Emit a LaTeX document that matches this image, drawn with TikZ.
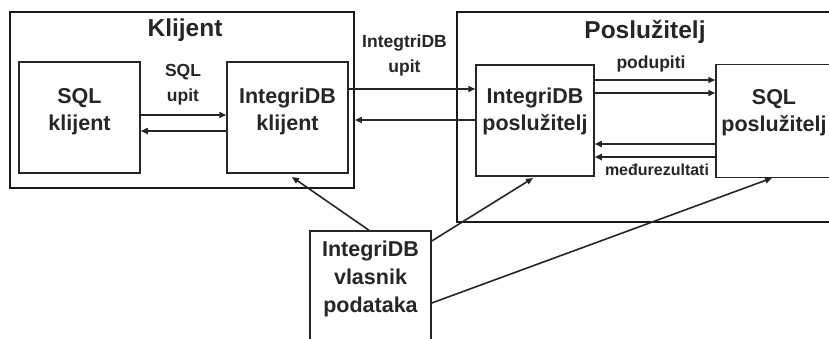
\documentclass[tikz,border=0pt]{standalone}
\usepackage{fontspec}
\setmainfont{Liberation Sans}
\usetikzlibrary{arrows.meta,calc}
\begin{document}
\begin{tikzpicture}[x=1pt,y=-1pt,
  box/.style={draw=black!85,line width=1.5pt,inner sep=0pt,rectangle},
  outer/.style={draw=black!90,line width=1.8pt,inner sep=0pt,rectangle},
  inner/.style={font=\fontsize{21.5}{27}\selectfont\bfseries,align=center,inner sep=0pt,text=black!85},
  lab/.style={font=\fontsize{17.5}{25}\selectfont\bfseries,align=center,inner sep=0pt,text=black!85},
  ttl/.style={font=\fontsize{24.5}{28}\selectfont\bfseries,inner sep=0pt,text=black!85},
  arr/.style={draw=black!85,line width=1.6pt,-{Triangle[length=7pt,width=6pt]}},
  ln/.style={draw=black!85,line width=1.6pt}]
\clip (0,0) rectangle (829,338);
\fill[white] (0,0) rectangle (829,338);
% outer boxes
\node[outer,minimum width=344,minimum height=176] (kl) at (182,100) {};
\node[outer,minimum width=390,minimum height=210] (po) at (652,117) {};
% inner boxes
\node[box,minimum width=121,minimum height=111] (sqlk) at (79.5,117.5) {};
\node[box,minimum width=121,minimum height=111] (idbk) at (287.5,117.5) {};
\node[box,minimum width=118,minimum height=111] (idbp) at (535,120.5) {};
\node[box,minimum width=124,minimum height=113] (sqlp) at (778,121) {};
\node[box,minimum width=121,minimum height=120] (vl) at (370.5,291) {};
% titles
\node[ttl] (tk) at (185,30) {Klijent};
\node[ttl] (tp) at (645,32) {Poslužitelj};
% box texts
\node[inner] (t1) at (79.5,111.5) {SQL\\klijent};
\node[inner] (t2) at (287.5,111.5) {IntegriDB\\klijent};
\node[inner] (t3) at (535,111.5) {IntegriDB\\poslužitelj};
\node[inner] (t4) at (774,113) {SQL\\poslužitelj};
\node[inner,font=\fontsize{21.5}{28}\selectfont\bfseries] (t5) at (370.5,279) {IntegriDB\\vlasnik\\podataka};
% labels
\node[lab] (l1) at (183,84.5) {SQL\\upit};
\node[lab] (l2) at (404.5,55.5) {IntegtriDB\\upit};
\node[lab] (l3) at (651,64) {podupiti};
\node[lab,font=\fontsize{16}{20}\selectfont\bfseries] (l4) at (657,170) {međurezultati};
% arrows inside client
\draw[arr] (sqlk.east |- 0,115) -- (idbk.west |- 0,115);
\draw[arr] (idbk.west |- 0,131) -- (sqlk.east |- 0,131);
% client <-> server
\draw[arr] (idbk.east |- 0,89) -- (idbp.west |- 0,89);
\draw[arr] (idbp.west |- 0,120) -- (kl.east |- 0,120);
% server internal
\draw[arr] (idbp.east |- 0,80) -- (sqlp.west |- 0,80);
\draw[arr] (idbp.east |- 0,93) -- (sqlp.west |- 0,93);
\draw[arr] (sqlp.west |- 0,144) -- (idbp.east |- 0,144);
\draw[arr] (sqlp.west |- 0,157) -- (idbp.east |- 0,157);
% owner links
\coordinate (a1) at (292,177);
\coordinate (a2) at (533,178);
\coordinate (a3) at (772,178);
\draw[arr] (vl.north -| 369,0) -- (a1);
\draw[arr] (vl.east |- 0,241) -- (a2);
\draw[arr] (vl.east |- 0,303) -- (a3);
\end{tikzpicture}
\end{document}
